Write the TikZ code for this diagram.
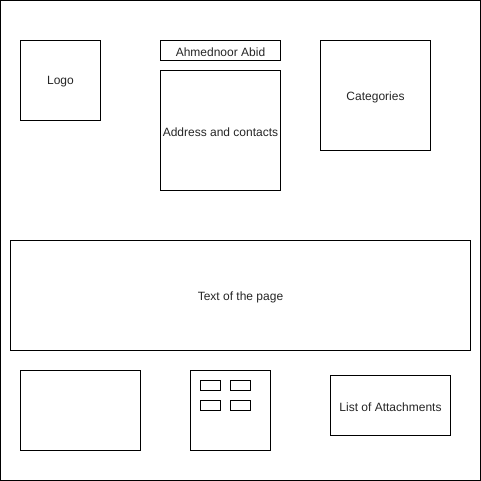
\documentclass[tikz,border=0pt]{standalone}
\usepackage{fontspec}
\setmainfont{Liberation Sans}
\begin{document}
\begin{tikzpicture}[x=1pt,y=-1pt,
  box/.style={draw=black,line width=1pt,fill=white},
  lbl/.style={font=\fontsize{12}{14}\selectfont,text=black!85,inner sep=0pt,yshift=-1.5pt}]
\useasboundingbox (0,0) rectangle (481,481);
\fill[white] (0,0) rectangle (481,481);
\draw[box] (0.5,0.5) rectangle (480.5,480.5);
\draw[box] (20.5,40.5) rectangle (100.5,120.5);
\node[lbl] (logo) at (60.5,80.5) {Logo};
\draw[box] (160.5,40.5) rectangle (280.5,60.5);
\node[lbl] (name) at (220.5,50.5) {Ahmednoor Abid};
\draw[box] (160.5,70.5) rectangle (280.5,190.5);
\node[lbl] (addr) at (220.5,130.5) {Address and contacts};
\draw[box] (320.5,40.5) rectangle (430.5,150.5);
\node[lbl] (cat) at (375.5,95.5) {Categories};
\draw[box] (10.5,240.5) rectangle (470.5,350.5);
\node[lbl] (text) at (240.5,295.5) {Text of the page};
\draw[box] (20.5,370.5) rectangle (140.5,450.5);
\draw[box] (190.5,370.5) rectangle (270.5,450.5);
\draw[box] (200.5,380.5) rectangle (220.5,390.5);
\draw[box] (230.5,380.5) rectangle (250.5,390.5);
\draw[box] (200.5,400.5) rectangle (220.5,410.5);
\draw[box] (230.5,400.5) rectangle (250.5,410.5);
\draw[box] (330.5,375.5) rectangle (450.5,435.5);
\node[lbl] (att) at (390.5,405.5) {List of Attachments};
\end{tikzpicture}
\end{document}
